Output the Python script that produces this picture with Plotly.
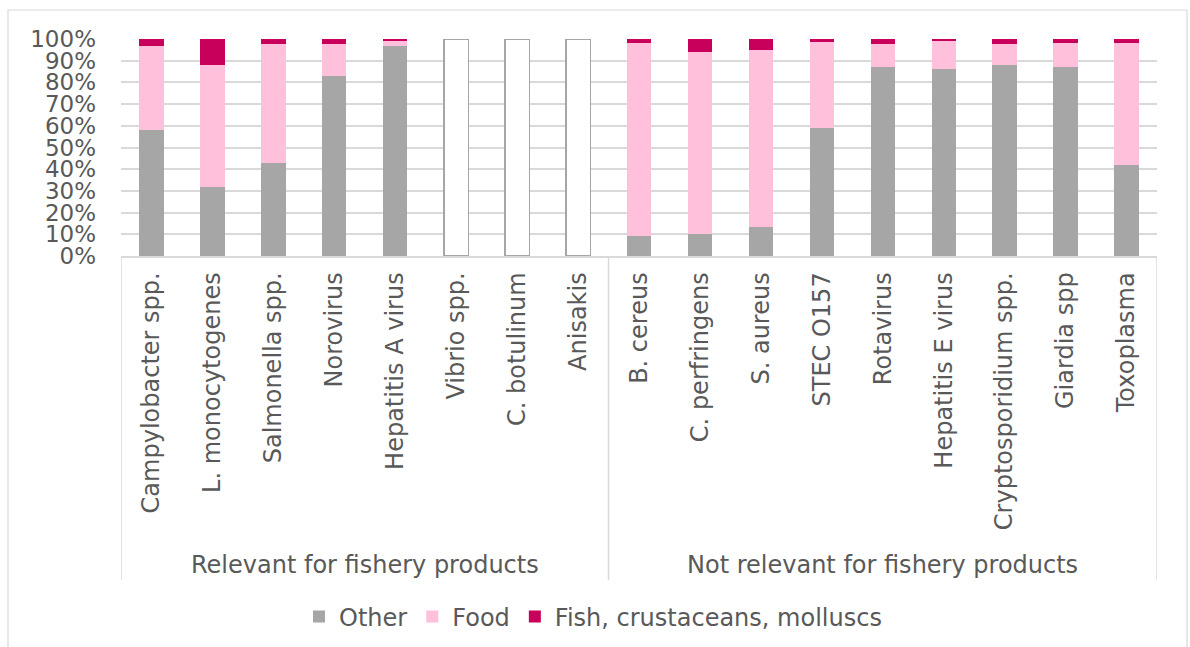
import plotly.graph_objects as go

categories = ["Campylobacter spp.", "L. monocytogenes", "Salmonella spp.", "Norovirus",
              "Hepatitis A virus", "Vibrio spp.", "C. botulinum", "Anisakis",
              "B. cereus", "C. perfringens", "S. aureus", "STEC O157", "Rotavirus",
              "Hepatitis E virus", "Cryptosporidium spp.", "Giardia spp", "Toxoplasma"]
groups = ["Relevant for fishery products", "Not relevant for fishery products"]
group_sizes = [8, 9]

other = [58, 32, 43, 83, 97, None, None, None, 9, 10, 13.5, 59, 87, 86, 88, 87, 42]
food = [39, 56, 54.5, 14.5, 2.5, None, None, None, 89, 84, 81.5, 39.5, 10.5, 13.5, 9.5, 11, 56]
fish = [3, 12, 2.5, 2.5, 0.5, None, None, None, 2, 6, 5, 1.5, 2.5, 0.5, 2.5, 2, 2]
no_data = [None, None, None, None, None, 100, 100, 100, None, None, None, None, None, None, None, None, None]

TXT = "#595959"
GRID = "#d9d9d9"
FONT = "DejaVu Sans"

fig = go.Figure()
fig.add_bar(x=categories, y=other, name="Other", marker=dict(color="#a6a6a6", line=dict(width=0)))
fig.add_bar(x=categories, y=food, name="Food", marker=dict(color="#ffc0dc", line=dict(width=0)))
fig.add_bar(x=categories, y=fish, name="Fish, crustaceans, molluscs",
            marker=dict(color="#c9005b", line=dict(width=0)))
fig.add_bar(x=categories, y=no_data, name="", showlegend=False,
            marker=dict(color="white", line=dict(color="#a6a6a6", width=1.5)))

W, H = 1190, 647
L, R, T, B = 121, 33, 39, 391
pw, ph = W - L - R, H - T - B

def py(pix):
    return (H - B - pix) / ph

def px(pix):
    return (pix - L) / pw

shapes = []
# boundaries of the category groups under the axis
bounds = [-0.5]
acc = -0.5
for n in group_sizes:
    acc += n
    bounds.append(acc)
for b in bounds:
    shapes.append(dict(type="line", xref="x", yref="paper", x0=b, x1=b, y0=0, y1=py(580),
                       line=dict(color=GRID, width=1.5), layer="below"))
# chart border
shapes.append(dict(type="rect", xref="paper", yref="paper", x0=px(8), x1=px(1187), y0=py(660), y1=py(10),
                   line=dict(color=GRID, width=1.2), layer="below"))

annotations = []
start = -0.5
for g, n in zip(groups, group_sizes):
    annotations.append(dict(x=start + n / 2, y=py(565), xref="x", yref="paper", text=g, showarrow=False,
                            font=dict(family=FONT, size=24, color=TXT), xanchor="center", yanchor="middle"))
    start += n

fig.update_layout(
    width=W, height=H,
    margin=dict(l=L, r=R, t=T, b=B, autoexpand=False),
    barmode="stack", bargap=0.6,
    plot_bgcolor="white", paper_bgcolor="white",
    font=dict(family=FONT, size=24, color=TXT),
    showlegend=True,
    legend=dict(orientation="h", x=px(593), xanchor="center", y=py(617), yanchor="middle",
                font=dict(family=FONT, size=24, color=TXT), traceorder="normal", itemwidth=30),
    shapes=shapes, annotations=annotations,
)
fig.update_xaxes(tickangle=-90, showline=True, linecolor=GRID, linewidth=1.5, showgrid=False,
                 ticks="", tickfont=dict(family=FONT, size=24, color=TXT), ticklabelstandoff=5,
                 range=[-0.5, 16.5])
fig.update_yaxes(range=[0, 100], dtick=10, ticksuffix="%", showgrid=True, gridcolor=GRID, gridwidth=1.5,
                 zeroline=False, showline=False, ticks="", tickfont=dict(family=FONT, size=23, color=TXT),
                 ticklabelstandoff=24)

fig.write_html("out.html")
